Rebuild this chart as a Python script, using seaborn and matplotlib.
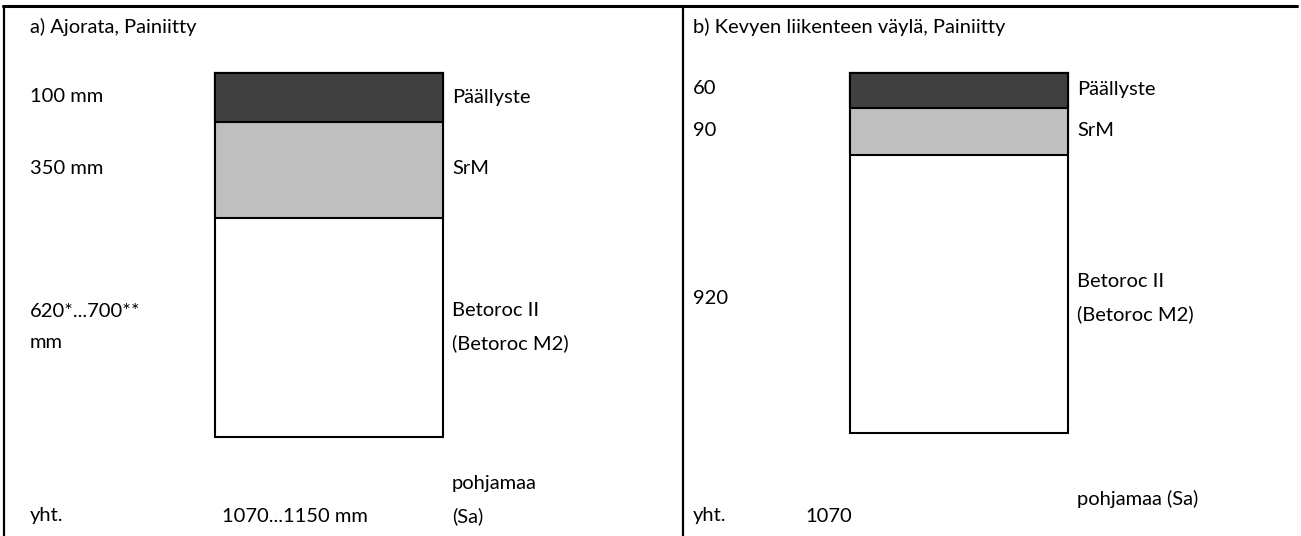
import numpy as np
import pandas as pd
import matplotlib
matplotlib.use("Agg")
import matplotlib.pyplot as plt
import seaborn as sns

# DATA
layers = ["Päällyste", "SrM", "Betoroc II\n(Betoroc M2)"]
layer_colors = ["#404040", "#bfbfbf", "#ffffff"]

# drawn layer thickness (as shown in the figure, not to scale)
drawn_a = [49, 96, 219]
drawn_b = [35, 47, 278]

labels_a = ["100 mm", "350 mm", "620*...700**\nmm"]
labels_b = ["60", "90", "920"]

title_a = "a) Ajorata, Painiitty"
title_b = "b) Kevyen liikenteen väylä, Painiitty"
total_a = "1070...1150 mm"
total_b = "1070"
base_a = "pohjamaa\n(Sa)"
base_b = "pohjamaa (Sa)"

# CONFIG
sns.set_theme(style="white")
plt.rcParams["font.family"] = ["Lato", "DejaVu Sans"]
W, H = 1301, 536
FS = 14.5

fig = plt.figure(figsize=(W / 100, H / 100), dpi=100)

# frame axes in pixel coordinates (y down)
frame = fig.add_axes([0, 0, 1, 1])
frame.set_xlim(0, W)
frame.set_ylim(H, 0)
frame.axis("off")
frame.plot([3, 1297], [6, 6], color="black", lw=2.2)
frame.plot([4, 4], [6, H], color="black", lw=1.6)
frame.plot([683, 683], [6, H], color="black", lw=1.6)


def draw_column(x0, x1, y0, drawn):
    # stacked column: draw cumulative depths, deepest first
    cum = np.cumsum(drawn)
    ax = fig.add_axes([x0 / W, 1 - (y0 + cum[-1]) / H, (x1 - x0) / W, cum[-1] / H])
    for i in range(len(drawn) - 1, -1, -1):
        df = pd.DataFrame({"col": ["x"], "depth": [cum[i]]})
        sns.barplot(data=df, x="col", y="depth", color=layer_colors[i],
                    saturation=1, width=1, edgecolor="black", linewidth=1.5,
                    clip_on=False, ax=ax)
    ax.set_xlim(-0.5, 0.5)
    ax.set_ylim(cum[-1], 0)
    ax.axis("off")
    return cum


def text_block(x, y, s, ha="left"):
    frame.text(x, y, s, fontsize=FS, ha=ha, va="center", color="black",
               linespacing=2.05)


# panel a
text_block(30, 27, title_a)
cum_a = draw_column(215, 443, 73, drawn_a)
mids_a = [97, 169, 327]
for lab, layer, y in zip(labels_a, layers, mids_a):
    text_block(30, y, lab)
    text_block(452, y, layer)
text_block(452, 500, base_a)
text_block(30, 516, "yht.")
text_block(222, 516, total_a)

# panel b
text_block(693, 27, title_b)
cum_b = draw_column(850, 1068, 73, drawn_b)
mids_b = [89, 130, 298]
for lab, y in zip(labels_b, mids_b):
    text_block(693, y, lab)
text_block(1077, 89, layers[0])
text_block(1077, 130, layers[1])
text_block(1077, 298, layers[2])
text_block(1077, 499, base_b)
text_block(693, 516, "yht.")
text_block(805, 516, total_b)

fig.savefig("out.png", dpi=100)
